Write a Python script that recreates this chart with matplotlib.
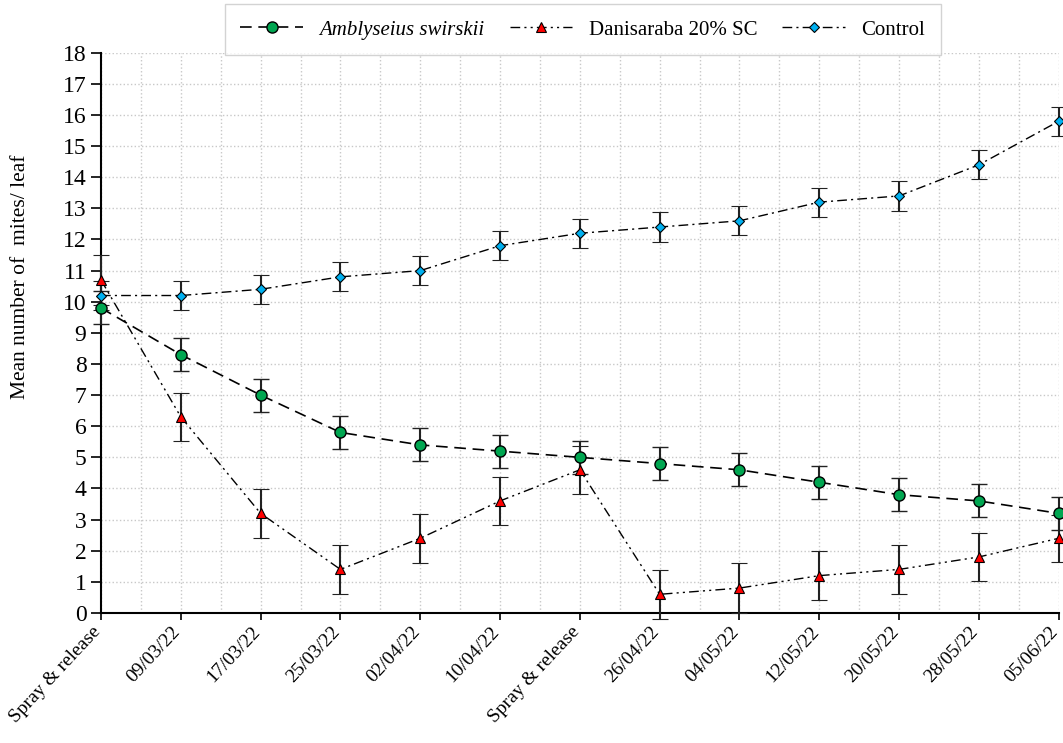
import matplotlib.pyplot as plt
import matplotlib.transforms as mtransforms
from matplotlib.lines import Line2D
import numpy as np

plt.rcParams['font.family'] = ['Liberation Serif', 'DejaVu Serif']

# Data
dates = ["Spray & release", "09/03/22", "17/03/22", "25/03/22", "02/04/22", "10/04/22",
         "Spray & release", "26/04/22", "04/05/22", "12/05/22", "20/05/22", "28/05/22", "05/06/22"]
swirskii = [9.8, 8.3, 7.0, 5.8, 5.4, 5.2, 5.0, 4.8, 4.6, 4.2, 3.8, 3.6, 3.2]
swirskii_err = [0.53] * 13
danisaraba = [10.7, 6.3, 3.2, 1.4, 2.4, 3.6, 4.6, 0.6, 0.8, 1.2, 1.4, 1.8, 2.4]
danisaraba_err = [0.8, 0.78, 0.78, 0.78, 0.78, 0.78, 0.78, 0.78, 0.8, 0.78, 0.78, 0.78, 0.75]
control = [10.2, 10.2, 10.4, 10.8, 11.0, 11.8, 12.2, 12.4, 12.6, 13.2, 13.4, 14.4, 15.8]
control_err = [0.47] * 13

x = np.arange(len(dates))

styles = [
    dict(label='Amblyseius swirskii', y=swirskii, err=swirskii_err, lw=1.2,
         dashes=(7, 4), marker='o', ms=8, mfc='#00a651', mew=1),
    dict(label='Danisaraba 20% SC', y=danisaraba, err=danisaraba_err, lw=1.0,
         dashes=(7, 3, 1.5, 3, 1.5, 3), marker='^', ms=7, mfc='#ff0000', mew=0.8),
    dict(label='Control', y=control, err=control_err, lw=1.0,
         dashes=(7, 3, 1.5, 3), marker='D', ms=5, mfc='#00b0f0', mew=0.8),
]

fig = plt.figure(figsize=(10.63, 7.43), dpi=100)
ax = fig.add_axes([0.095, 0.175, 0.901, 0.754])

handles = []
for s in styles:
    ax.errorbar(x, s['y'], yerr=s['err'], color='black', lw=s['lw'], dashes=s['dashes'],
                marker=s['marker'], ms=s['ms'], mfc=s['mfc'], mec='black', mew=s['mew'],
                ecolor='#222222', elinewidth=1.5, capsize=6, capthick=1.5,
                clip_on=False, zorder=3)
    handles.append(Line2D([], [], color='black', lw=s['lw'], dashes=s['dashes'],
                          marker=s['marker'], ms=s['ms'], mfc=s['mfc'], mec='black',
                          mew=s['mew'], label=s['label']))

ax.set_xlim(0, 12)
ax.set_ylim(0, 18)
ax.set_yticks(np.arange(0, 19, 1))
ax.set_xticks(x)
ax.set_xticks(x[:-1] + 0.5, minor=True)
ax.set_xticklabels(dates, rotation=47, ha='right', va='bottom', rotation_mode='anchor',
                   fontsize=14)
ax.tick_params(axis='y', labelsize=17, direction='out', length=7, width=1.2)
ax.tick_params(axis='x', direction='out', length=5, width=1.2, pad=11)
ax.tick_params(axis='x', which='minor', length=0)

# nudge the rotated date labels a little to the right
shift = mtransforms.ScaledTranslation(3 / 100, 0, fig.dpi_scale_trans)
for lab in ax.get_xticklabels():
    lab.set_transform(lab.get_transform() + shift)

ax.grid(True, which='major', color='#c8c8c8', linestyle=':', linewidth=1)
ax.grid(True, which='minor', axis='x', color='#c8c8c8', linestyle=':', linewidth=1)
ax.set_axisbelow(True)

for side in ['top', 'right']:
    ax.spines[side].set_visible(False)
for side in ['left', 'bottom']:
    ax.spines[side].set_linewidth(1.5)

ax.set_ylabel('Mean number of  mites/ leaf', fontsize=15.5)
ax.yaxis.set_label_coords(-0.074, 0.6)

leg = ax.legend(handles=handles, loc='lower center', bbox_to_anchor=(0.503, 0.977), ncol=3,
                fontsize=15, frameon=True, fancybox=False, edgecolor='#c8c8c8',
                handlelength=3.0, columnspacing=1.2, borderpad=0.75)
leg.get_frame().set_linewidth(1)
leg.get_texts()[0].set_style('italic')

fig.savefig('out.png', dpi=100)
